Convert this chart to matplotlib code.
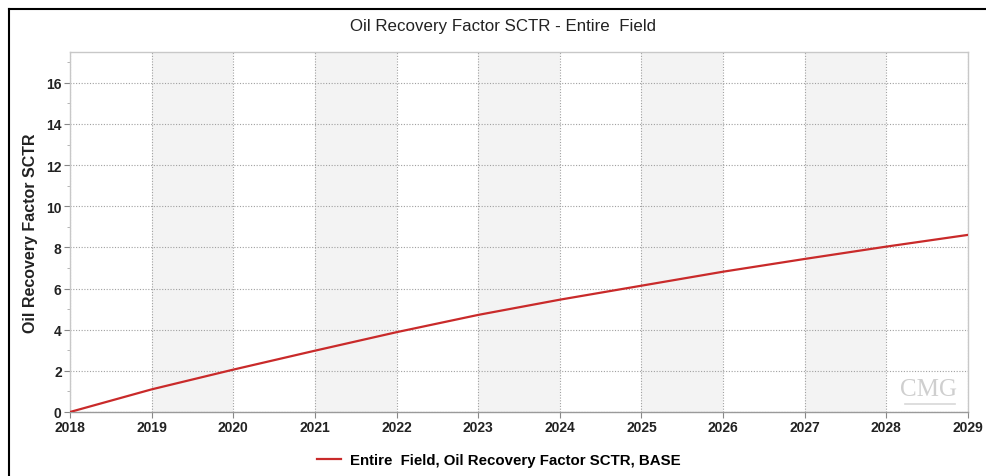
import matplotlib
matplotlib.use("Agg")
import matplotlib.pyplot as plt
from matplotlib.lines import Line2D
from matplotlib.ticker import MultipleLocator

# Yearly recovery factor (%) for the BASE case
years = [2018, 2019, 2020, 2021, 2022, 2023, 2024, 2025, 2026, 2027, 2028, 2029]
recovery = [0.0, 1.10, 2.06, 2.98, 3.88, 4.72, 5.46, 6.14, 6.82, 7.44, 8.04, 8.61]
shaded_years = [2019, 2021, 2023, 2025, 2027]
y_ticks = [0, 2, 4, 6, 8, 10, 12, 14, 16]

title = "Oil Recovery Factor SCTR - Entire  Field"
y_label = "Oil Recovery Factor SCTR"
series_label = "Entire  Field, Oil Recovery Factor SCTR, BASE"

plt.rcParams["font.family"] = ["Liberation Sans", "DejaVu Sans"]

fig = plt.figure(figsize=(9.86, 4.77), dpi=100)
fig.patch.set_facecolor("white")
W, H = 986, 477
ax = fig.add_axes([70 / W, 1 - 413 / H, (968 - 70) / W, (413 - 53) / H])

# alternating year bands
for y0 in shaded_years:
    ax.axvspan(y0, y0 + 1, color="#f3f3f3", zorder=0, lw=0)

ax.plot(years, recovery, color="#c92a2a", lw=1.6, zorder=3, solid_capstyle="round")

ax.set_xlim(2018, 2029)
ax.set_ylim(0, 17.5)
ax.set_xticks(years)
ax.set_yticks(y_ticks)
ax.yaxis.set_minor_locator(MultipleLocator(1))
ax.grid(True, which="major", color="#a0a0a0", linestyle=(0, (1, 1.5)), lw=0.8, zorder=1)

for s in ax.spines.values():
    s.set_color("#c8c8c8")
    s.set_linewidth(1.0)
ax.spines["bottom"].set_color("#9a9a9a")

ax.tick_params(axis="both", which="major", length=4, color="#888888",
               labelsize=10, pad=2)
ax.tick_params(axis="y", which="minor", length=2, color="#aaaaaa")
for lab in ax.get_xticklabels() + ax.get_yticklabels():
    lab.set_fontweight("bold")
    lab.set_color("#222222")

ax.set_ylabel(y_label, fontsize=11.5, fontweight="bold", color="#222222", labelpad=6)

fig.text(503 / W, 1 - 27 / H, title, ha="center", va="center", fontsize=12.2, color="#222222")

# watermark
ax.text(0.988, 0.065, "CMG", transform=ax.transAxes, ha="right", va="center",
        fontsize=18, color="#cfcfcf", family="Liberation Serif", zorder=2)
ax.plot([0.93, 0.985], [0.022, 0.022], transform=ax.transAxes, color="#d8d8d8",
        lw=1.2, zorder=2)

# legend below the axes
leg_handle = Line2D([], [], color="#c92a2a", lw=1.6)
fig.legend([leg_handle], [series_label], loc="center", bbox_to_anchor=(499 / W, 1 - 461 / H),
           frameon=False, prop={"weight": "bold", "size": 10.8}, handlelength=1.6,
           handletextpad=0.6)

# outer frame lines
fig.add_artist(Line2D([9 / W, 9 / W], [0, 1 - 10 / H], color="black", lw=1.5,
                      transform=fig.transFigure))
fig.add_artist(Line2D([9 / W, 1], [1 - 10 / H, 1 - 10 / H], color="black", lw=1.5,
                      transform=fig.transFigure))

fig.savefig("out.png", dpi=100, facecolor="white")
